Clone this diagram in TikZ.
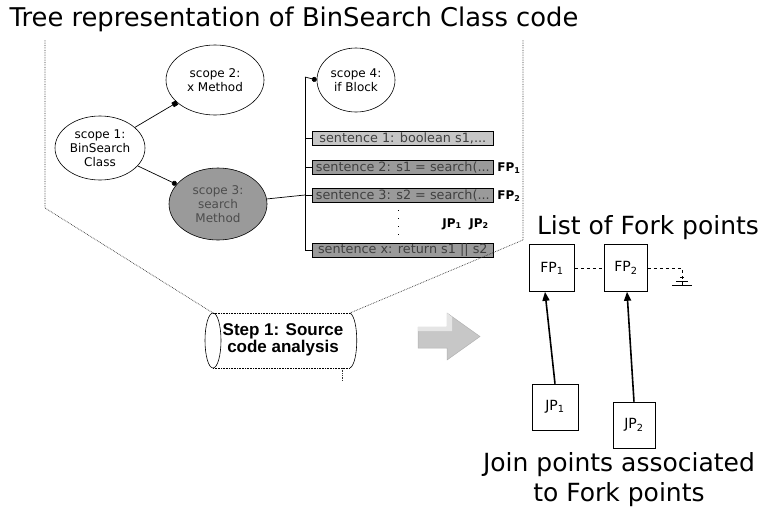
\documentclass[tikz,border=0pt]{standalone}
\usepackage{fontspec}
\setmainfont{DejaVu Sans}
\newfontfamily\boxfont{Liberation Sans}
\usetikzlibrary{shapes.geometric,arrows.meta}
\definecolor{darkbox}{HTML}{9A9A9A}
\definecolor{lightbox}{HTML}{C6C6C6}
\tikzset{
  scopenode/.style={ellipse,draw,line width=0.6pt,align=center,font=\fontsize{12}{14}\selectfont,inner sep=0pt},
  sentbox/.style={draw,line width=0.6pt,anchor=west,minimum width=181pt,minimum height=14pt,inner sep=0.5pt,text=black!75,font=\fontsize{12.8}{13}\selectfont,align=left},
  biglabel/.style={font=\fontsize{25}{30}\selectfont,align=center},
  fjbox/.style={draw,line width=0.6pt,font=\fontsize{14}{16}\selectfont,inner sep=0pt},
  smallbold/.style={font=\bfseries\fontsize{12}{14}\selectfont},
  guide/.style={densely dotted,line width=0.7pt,black!80},
  trunk/.style={line width=0.7pt},
}
\begin{document}
\begin{tikzpicture}[x=1pt,y=-1pt]
\useasboundingbox (0,0) rectangle (771,512);
% title
\node[biglabel,font=\fontsize{25.8}{30}\selectfont] (title) at (294,19) {Tree representation of BinSearch Class code};
% zoom guides
\coordinate (gl1) at (45,40);
\coordinate (gl2) at (45,208);
\coordinate (gr1) at (523,40);
\coordinate (gr2) at (523,240);
% scopes
\node[scopenode,minimum width=90pt,minimum height=64pt] (s1) at (100,148) {scope 1:\\BinSearch\\Class};
\node[scopenode,minimum width=98pt,minimum height=70pt] (s2) at (215,80) {scope 2:\\x Method};
\node[scopenode,minimum width=98pt,minimum height=72pt,fill=darkbox,text=black!70] (s3) at (218,204) {scope 3:\\search\\Method};
\node[scopenode,minimum width=78pt,minimum height=64pt] (s4) at (356,80) {scope 4:\\if Block};
\draw[trunk,-{Square[length=5pt,width=5pt]}] (s1) -- (s2);
\draw[trunk,-{Circle[length=5pt]}] (s1) -- (s3);
% trunk
\coordinate (tTop) at (305,77);
\coordinate (t1) at (305,138);
\coordinate (t2) at (305,167);
\coordinate (t3) at (305,195);
\coordinate (tBot) at (305,250);
\draw[trunk] (s3) -- (t3);
\draw[trunk] (tTop) -- (tBot);
\draw[trunk,-{Circle[length=5pt]}] (tTop) -- (s4.west);
% sentences
\node[sentbox,fill=lightbox] (se1) at (312,138) {sentence 1: boolean s1,...};
\node[sentbox,fill=darkbox] (se2) at (312,167) {sentence 2: s1 = search(...};
\node[sentbox,fill=darkbox] (se3) at (312,195) {sentence 3: s2 = search(...};
\node[sentbox,fill=darkbox] (sex) at (312,250) {sentence x: return s1 || s2};
\draw[trunk] (t1) -- (se1.west);
\draw[trunk] (t2) -- (se2.west);
\draw[trunk] (t3) -- (se3.west);
\draw[trunk] (tBot) -- (sex.west);
\coordinate (vd1) at (398,210);
\coordinate (vd2) at (398,238);
\draw[line width=0.9pt,dash pattern=on 1pt off 7pt] (vd1) -- (vd2);
\node[smallbold] (fp1l) at (509,168) {FP\textsubscript{1}};
\node[smallbold] (fp2l) at (509,196) {FP\textsubscript{2}};
\node[smallbold] (jp1l) at (452,224) {JP\textsubscript{1}};
\node[smallbold] (jp2l) at (479,224) {JP\textsubscript{2}};
% cylinder
\coordinate (cTL) at (213,313);
\coordinate (cBL) at (213,368);
\coordinate (cTR) at (350,313);
\coordinate (cBR) at (350,368);
\coordinate (cTick) at (342,381);
\draw[line width=0.6pt] (213,340.5) ellipse [x radius=8,y radius=27.5];
\draw[line width=0.6pt,densely dotted] (cTL) -- (cTR);
\draw[line width=0.6pt,densely dotted] (cBL) -- (cBR);
\draw[line width=0.6pt] (cTR) .. controls (359,318) and (359,363) .. (cBR);
\draw[guide] (342,368) -- (cTick);
\node[font=\boxfont\bfseries\fontsize{17}{17}\selectfont,align=center] (step) at (283,340) {Step 1: Source\\code analysis};
\draw[guide] (gl1) -- (gl2) -- (cTL);
\draw[guide] (gr1) -- (gr2) -- (cTR);
% big arrow
\fill[black!22,draw=black!30,line width=0.5pt] (418,327) -- (447,327) -- (447,313) -- (480,336.5) -- (447,360) -- (447,348) -- (418,348) -- cycle;
\fill[black!10] (418,327) -- (447,327) -- (447,313) -- (452,317) -- (452,331) -- (418,331) -- cycle;
% right side
\node[biglabel] (listlbl) at (648,228) {List of Fork points};
\node[fjbox,minimum width=45pt,minimum height=47pt] (FP1) at (552,268) {FP\textsubscript{1}};
\node[fjbox,minimum width=43pt,minimum height=47pt] (FP2) at (626,268) {FP\textsubscript{2}};
\node[fjbox,minimum width=46pt,minimum height=46pt] (JP1) at (555,407) {JP\textsubscript{1}};
\node[fjbox,minimum width=42pt,minimum height=46pt] (JP2) at (634,425) {JP\textsubscript{2}};
\coordinate (gnd) at (682,285);
\draw[dashed,line width=0.8pt] (FP1.east) -- (FP2.west);
\draw[dashed,line width=0.8pt] (FP2.east) -| (gnd);
\draw[line width=0.8pt] ([xshift=-10]gnd) -- ([xshift=10]gnd);
\draw[line width=0.8pt] ([xshift=-6,yshift=4]gnd) -- ([xshift=6,yshift=4]gnd);
\draw[line width=0.8pt] ([xshift=-2,yshift=8]gnd) -- ([xshift=2,yshift=8]gnd);
\draw[line width=1.6pt,-{Triangle[length=9pt,width=7pt]}] (JP1.north) -- ([xshift=-7]FP1.south);
\draw[line width=1.6pt,-{Triangle[length=9pt,width=7pt]}] (JP2.north) -- ([xshift=1]FP2.south);
\node[biglabel] (joinlbl) at (619,480) {Join points associated\\to Fork points};
\end{tikzpicture}
\end{document}
